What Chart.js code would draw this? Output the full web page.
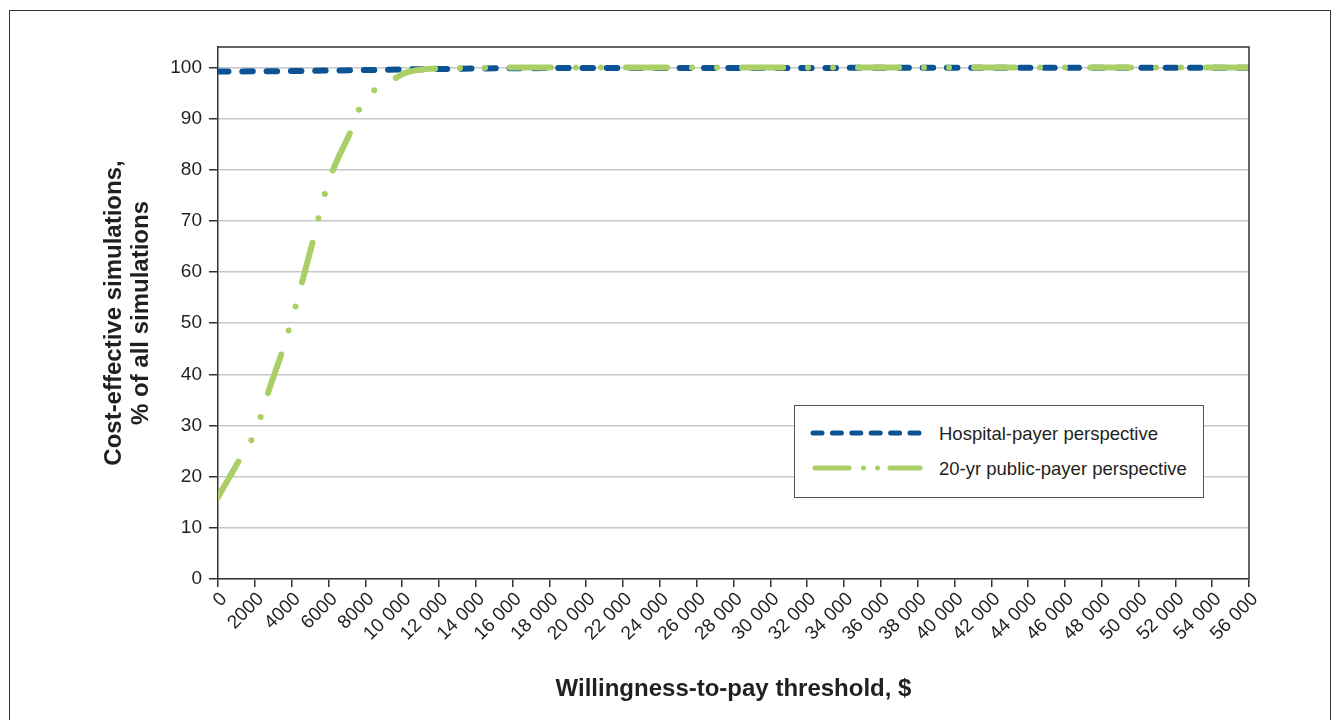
<!DOCTYPE html>
<html>
<head>
<meta charset="utf-8">
<script src="https://cdn.jsdelivr.net/npm/chart.js@4/dist/chart.umd.min.js"></script>
<style>
    body { margin: 0; background: #fff; font-family: "Liberation Sans", Arial, sans-serif; }
    #wrap { position: relative; width: 1342px; height: 720px; overflow: hidden; }
    #frame { position: absolute; left: 9px; top: 10px; width: 1322px; height: 760px; border: 1.5px solid #333; box-sizing: border-box; }
    #chartBox { position: absolute; left: 0; top: 0; width: 1342px; height: 720px; }
    #legend { position: absolute; left: 794px; top: 405px; width: 410px; height: 93px; border: 1.5px solid #555; box-sizing: border-box; background: #fff; }
    .item { position: absolute; left: 0; height: 24px; font-size: 18.5px; color: #231f20; }
    .item svg { position: absolute; left: 0; top: 0; }
    .item span { position: absolute; left: 144px; top: 2px; white-space: nowrap; }
</style>
</head>
<body>
<div id="wrap">
    <div id="frame"></div>
    <div id="chartBox"><canvas id="chart"></canvas></div>
    <div id="legend">
        <div class="item" style="top: 15px;">
            <svg width="140" height="24"><line x1="18" y1="12" x2="124" y2="12" stroke="#0b5394" stroke-width="5" stroke-linecap="round" stroke-dasharray="9 10.4"/></svg>
            <span>Hospital-payer perspective</span>
        </div>
        <div class="item" style="top: 50px;">
            <svg width="140" height="24"><line x1="20" y1="12" x2="125" y2="12" stroke="#a9cf66" stroke-width="5" stroke-linecap="round" stroke-dasharray="34 14.5 0 14 0 12.5 30"/></svg>
            <span>20-yr public-payer perspective</span>
        </div>
    </div>
</div>
<script>
const hospitalLabel = 'Hospital-payer perspective';
const publicLabel = '20-yr public-payer perspective';

// willingness-to-pay threshold ($) and % cost-effective simulations
const wtpHospital = [0, 2000, 4000, 6000, 8000, 10000, 12000, 14000, 16000, 20000, 56000];
const costEffHospital = [99.2, 99.25, 99.3, 99.4, 99.5, 99.6, 99.7, 99.8, 99.85, 99.9, 99.95];

const wtpPublic = [0, 1200, 1850, 2340, 2720, 3480, 3860, 4240, 4570, 5170, 5490, 5820, 6250, 7230, 7720, 8540, 9680, 10060, 11960, 14000, 16000, 56000];
const costEffPublic = [16, 23.5, 27.4, 31.9, 36.4, 44.4, 48.9, 53.6, 58.1, 66.3, 71, 75.5, 80, 87.7, 92.2, 95.7, 98, 98.8, 99.8, 99.9, 100, 100];

const yTicks = [0, 10, 20, 30, 40, 50, 60, 70, 80, 90, 100];

const textColor = '#231f20';
const axisColor = '#333';
const fontFamily = '"Liberation Sans", Arial, sans-serif';

window.addEventListener('load', () => {
    buildCeacChart();
});

function formatWtp(v) {
    if (v < 10000) return String(v);
    return String(v).replace(/\B(?=(\d{3})+(?!\d))/g, ' ');
}

// top and right edges of the plot box
const plotFrame = {
    id: 'plotFrame',
    afterDatasetsDraw(chart) {
        const {ctx, chartArea: a} = chart;
        ctx.save();
        ctx.strokeStyle = axisColor;
        ctx.lineWidth = 1.5;
        ctx.beginPath();
        ctx.moveTo(a.left, a.top);
        ctx.lineTo(a.right, a.top);
        ctx.lineTo(a.right, a.bottom);
        ctx.stroke();
        ctx.restore();
    }
};

function buildCeacChart() {
    const chartCtx = document.getElementById('chart').getContext('2d');

    const chart = new Chart(chartCtx, {
        type: 'line',
        data: {
            datasets: [{
                label: hospitalLabel,
                data: wtpHospital.map((x, i) => ({x: x, y: costEffHospital[i]})),
                borderColor: '#0b5394',
                borderWidth: 6,
                borderDash: [10.5, 13.8],
                borderCapStyle: 'round',
                pointRadius: 0,
                order: 1
            }, {
                label: publicLabel,
                data: wtpPublic.map((x, i) => ({x: x, y: costEffPublic[i]})),
                borderColor: '#a9cf66',
                borderWidth: 6,
                borderDash: [41, 25, 0, 25, 0, 25],
                borderCapStyle: 'round',
                cubicInterpolationMode: 'monotone',
                pointRadius: 0,
                order: 0
            }]
        },
        options: {
            responsive: true,
            maintainAspectRatio: false,
            animation: false,
            layout: {
                padding: {left: 0, top: 47, right: 93, bottom: 10}
            },
            plugins: {
                legend: {display: false},
                tooltip: {enabled: false}
            },
            scales: {
                x: {
                    type: 'linear',
                    min: 0,
                    max: 56000,
                    afterFit: scale => { scale.height = 131; },
                    grid: {
                        drawOnChartArea: false,
                        tickColor: axisColor,
                        tickLength: 8,
                        lineWidth: 1.5
                    },
                    border: {color: axisColor, width: 1.5},
                    ticks: {
                        stepSize: 2000,
                        autoSkip: false,
                        minRotation: 45,
                        maxRotation: 45,
                        padding: 1,
                        labelOffset: 6,
                        color: textColor,
                        font: {family: fontFamily, size: 19},
                        callback: v => formatWtp(v)
                    },
                    title: {
                        display: true,
                        text: 'Willingness-to-pay threshold, $',
                        color: textColor,
                        font: {family: fontFamily, size: 24, weight: 'bold'},
                        padding: {top: 0, bottom: 6}
                    }
                },
                y: {
                    min: 0,
                    max: 104,
                    afterFit: scale => { scale.width = 218; },
                    afterBuildTicks: scale => {
                        scale.ticks = yTicks.map(v => ({value: v}));
                    },
                    grid: {
                        color: '#c8c8c8',
                        lineWidth: 1.5,
                        tickColor: axisColor,
                        tickLength: 9
                    },
                    border: {color: axisColor, width: 1.5},
                    ticks: {
                        padding: 7,
                        color: textColor,
                        font: {family: fontFamily, size: 19}
                    },
                    title: {
                        display: true,
                        text: ['Cost-effective simulations,', '% of all simulations'],
                        color: textColor,
                        font: {family: fontFamily, size: 24, weight: 'bold', lineHeight: 1.125},
                        padding: {top: 101, bottom: 0}
                    }
                }
            }
        },
        plugins: [plotFrame]
    });
}
</script>
</body>
</html>
